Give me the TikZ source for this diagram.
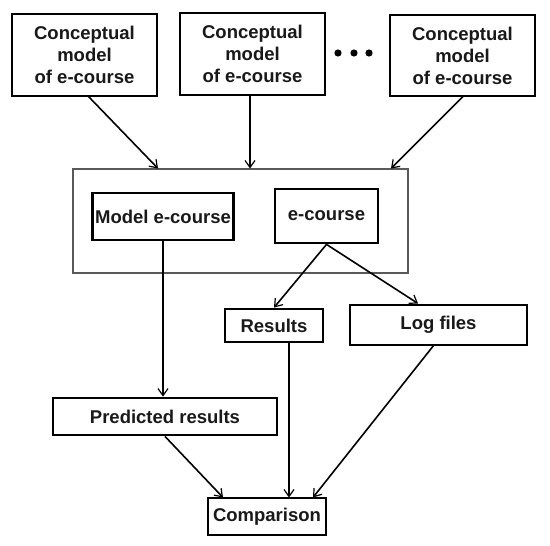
\documentclass[tikz,border=0pt]{standalone}
\usepackage{fontspec}
\setmainfont{Liberation Sans}
\usetikzlibrary{arrows.meta,calc}
\begin{document}
\begin{tikzpicture}[x=1pt,y=-1pt,
  box/.style={draw=black,line width=2.8pt,fill=white,inner sep=0pt,align=center,
    font=\fontsize{18.5}{22}\selectfont\bfseries,text=black!90},
  arr/.style={line width=1.6pt,-{Straight Barb[length=7pt,width=10pt,line width=1.2pt]}}]
\useasboundingbox (0,0) rectangle (550,546);
% container
\node[draw=black!65,line width=1.1pt,minimum width=335pt,minimum height=104pt,inner sep=0pt] (cont) at (240.5,221) {};
% top boxes
\node[box,minimum width=145pt,minimum height=82pt] (b1) at (84.5,55) {Conceptual\\model\\of e-course};
\node[box,minimum width=145pt,minimum height=82pt] (b2) at (252.5,54) {Conceptual\\model\\of e-course};
\node[box,minimum width=145pt,minimum height=81pt] (b3) at (462.5,55.5) {Conceptual\\model\\of e-course};
% dots
\fill[black] (338,53) circle (3.6pt) (354,53) circle (3.6pt) (369,53) circle (3.6pt);
% inner boxes
\node[box,minimum width=141pt,minimum height=47pt] (model) at (163,216.5) {Model e-course};
\node[box,minimum width=103pt,minimum height=54pt] (ec) at (326.5,216) {e-course};
\node[box,minimum width=98pt,minimum height=33pt] (res) at (274,325.5) {Results};
\node[box,minimum width=177pt,minimum height=40pt] (log) at (438.5,325) {Log files};
\node[box,minimum width=224pt,minimum height=37pt] (pred) at (165,416.5) {Predicted results};
\node[box,minimum width=118pt,minimum height=37pt] (comp) at (267,516.5) {Comparison};
% coordinates
\coordinate (s1) at (88,96);
\coordinate (t1) at (158,168.5);
\coordinate (t2) at (250,168.5);
\coordinate (s3) at (463,96.5);
\coordinate (t3) at (391,168.5);
\coordinate (tlog) at (418,303.5);
\coordinate (sres) at (289,342);
\coordinate (slog) at (434,345);
\coordinate (tc1) at (223,497.5);
\coordinate (tc2) at (289,497.5);
\coordinate (tc3) at (313,497.5);
% connectors
\draw[arr] (s1) -- (t1);
\draw[arr] (b2.south -| t2) -- (t2);
\draw[arr] (s3) -- (t3);
\draw[arr] (model.south) -- (model.south |- pred.north);
\draw[arr] (ec.south) -- (res.north);
\draw[arr] (ec.south) -- (tlog);
\draw[arr] (pred.south) -- (tc1);
\draw[arr] (sres) -- (tc2);
\draw[arr] (slog) -- (tc3);
\end{tikzpicture}
\end{document}
